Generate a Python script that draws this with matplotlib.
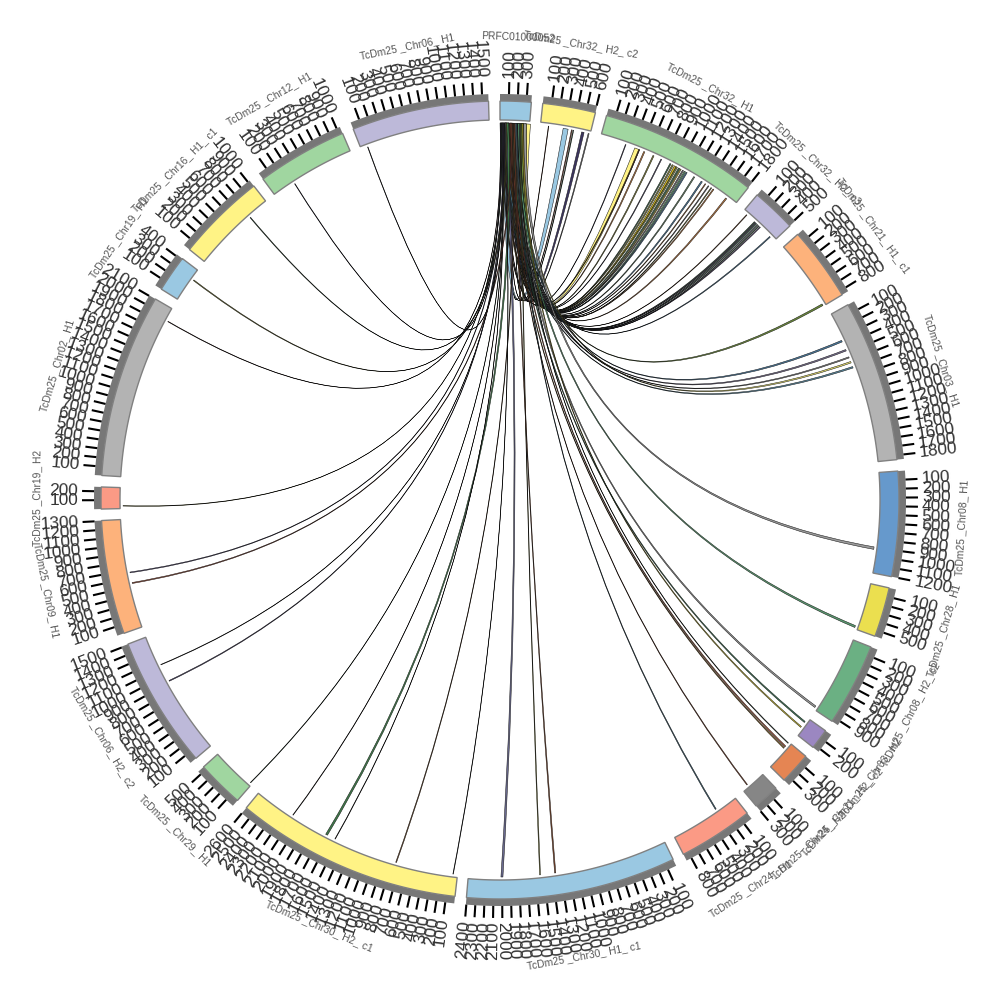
import numpy as np
import matplotlib
matplotlib.use("Agg")
import matplotlib.pyplot as plt
from matplotlib.path import Path
from matplotlib.patches import PathPatch, Polygon

plt.rcParams['font.family'] = ['Liberation Sans', 'DejaVu Sans']

# sectors, clockwise from twelve o'clock
sector_names = [
    "PRFC01000052", "TcDm25 _Chr32_ H2_ c2", "TcDm25 _Chr32_ H1", "TcDm25 _Chr32_ H2_ c3",
    "TcDm25 _Chr21_ H1_ c1", "TcDm25 _Chr03_ H1", "TcDm25 _Chr08_ H1", "TcDm25 _Chr28_ H1",
    "TcDm25 _Chr08_ H2_ c2", "TcDm25 _Chr03_ H2", "TcDm25 _Chr21_ H2_ c2", "TcDm25 _Chr24_ H2",
    "TcDm25 _Chr24_ H1", "TcDm25 _Chr30_ H1_ c1", "TcDm25 _Chr30_ H2_ c1", "TcDm25 _Chr29_ H1",
    "TcDm25 _Chr06_ H2_ c2", "TcDm25 _Chr09_ H1", "TcDm25 _Chr19_ H2", "TcDm25 _Chr02_ H1",
    "TcDm25 _Chr19_ H1", "TcDm25 _Chr16_ H1_ c1", "TcDm25 _Chr12_ H1", "TcDm25 _Chr06_ H1",
]
sector_lengths = [355, 605, 1810, 510, 850, 1850, 1200, 570, 950, 235, 365, 300,
                  860, 2405, 2600, 540, 1510, 1305, 250, 2105, 420, 1025, 1040, 1570]
sector_colors = ["#9ac8e2", "#fff385", "#a0d6a0", "#bdb9d9", "#fdb27b", "#b3b3b3",
                 "#6699cc", "#ebdf4f", "#6bb083", "#9b87c1", "#e58553", "#868686",
                 "#fb9a85", "#9ac8e2", "#fff385", "#a0d6a0", "#bdb9d9", "#fdb27b",
                 "#fb9a85", "#b3b3b3", "#9ac8e2", "#fff385", "#a0d6a0", "#bdb9d9"]

# links, all of them go to sector 0
link_sector = [1, 1, 1, 1, 1, 1,
               2, 2, 2, 2, 2, 2,
               2, 2, 2, 2, 2, 2, 2, 2, 2,
               2, 2, 2, 2, 2, 2, 2,
               3, 3, 3, 3, 3, 3, 3, 3,
               4, 5, 5, 5, 5, 5,
               6, 7, 8, 9, 9, 10, 10, 10, 11, 12,
               13, 13, 13, 14, 14, 14, 14, 14, 15, 16, 16, 17, 17,
               18, 19, 20, 21, 22, 23]
link_pos = [95, 275, 375, 395, 500, 580,
            310, 430, 480, 545, 665, 770,
            890, 920, 950, 975, 1005, 1030, 1060, 1085, 1110,
            1215, 1320, 1375, 1420, 1460, 1490, 1675,
            55, 180, 195, 210, 230, 250, 270, 435,
            820, 335, 455, 550, 610, 675,
            890, 530, 905, 125, 50, 85, 60, 10, 215, 260,
            1990, 1540, 1355, 2110, 1635, 1530, 745, 50, 20, 1135, 915, 660, 530,
            30, 1945, 290, 755, 270, 80]
link_width = [6, 60, 10, 8, 30, 12,
              8, 60, 12, 14, 14, 10,
              14, 16, 24, 16, 18, 12, 14, 16, 14,
              14, 16, 10, 10, 10, 12, 16,
              8, 12, 10, 10, 10, 10, 10, 12,
              22, 20, 18, 14, 18, 18,
              30, 24, 22, 14, 16, 12, 14, 8, 10, 12,
              24, 10, 14, 6, 24, 6, 10, 6, 6, 6, 10, 10, 12,
              6, 6, 10, 8, 6, 6]
link_source = [150, 40, 125, 215, 250, 270,
               70, 305, 20, 175, 255, 90,
               280, 130, 240, 60, 195, 265, 110, 225, 150,
               200, 85, 40, 165, 240, 120, 215,
               180, 60, 95, 245, 135, 210, 30, 270,
               255, 225, 95, 160, 300, 50,
               285, 205, 180, 265, 140, 75, 120, 205, 100, 190,
               60, 235, 160, 15, 80, 5, 145, 30, 25, 50, 20, 35, 130,
               10, 0, 70, 15, 5, 45]
link_colors = ["#7a3a20", "#9ac8e2", "#a0533a", "#3f6b4a", "#3c3560", "#777777",
               "#605a80", "#fff385", "#4a3020", "#c98040", "#8a8a3a", "#605a80",
               "#3f6b4a", "#8a8a3a", "#c9b020", "#8a8a3a", "#3f6b4a", "#e0c030", "#777777", "#5a9a70", "#4a7a9f",
               "#6b8a6b", "#4a7a9f", "#c98040", "#777777", "#8a8a3a", "#c98040", "#c07a40",
               "#a06030", "#3f6b4a", "#6f5a90", "#5a9a70", "#7a8a9a", "#3f6b4a", "#6f5a90", "#4a7a9f",
               "#6b8a3a", "#4a7a9f", "#7a7090", "#888888", "#e8e070", "#5a8aa0",
               "#999999", "#5a9a70", "#999999", "#d8c830", "#3f7b5a", "#a07020", "#c06040", "#3f5a4a", "#a05030", "#3f6a80",
               "#6a6a90", "#8a8a3a", "#8a4a2a", "#4a3a3a", "#3f7b4a", "#333333", "#8a5a30", "#333333", "#3f6b4a",
               "#555555", "#5a5080", "#6a6090", "#a0503a",
               "#8a8a3a", "#6a3a3a", "#8a8a3a", "#3f6b4a", "#504a70", "#333344"]

gap_deg = 1.65
r_in, r_out, r_band, r_tick, r_label, r_name = 380, 399, 406, 418, 422, 463
r_link, r_ctrl = 377, 25

deg_per_unit = (360 - gap_deg * len(sector_lengths)) / sum(sector_lengths)
sector_start = []
cur = 0.0
for n in sector_lengths:
    sector_start.append(cur)
    cur += n * deg_per_unit + gap_deg


def polar(r, deg):
    a = np.radians(deg)
    return r * np.sin(a), r * np.cos(a)


def band(r0, r1, d0, d1):
    ds = np.linspace(d0, d1, 40)
    x0, y0 = polar(r0, ds)
    x1, y1 = polar(r1, ds[::-1])
    return np.column_stack([np.r_[x0, x1], np.r_[y0, y1]])


def pos_deg(sector, value):
    return sector_start[sector] + value * deg_per_unit


fig = plt.figure(figsize=(10, 10), dpi=100)
ax = fig.add_axes([0, 0, 1, 1])
ax.set_xlim(-500, 500)
ax.set_ylim(-500, 500)
ax.axis('off')

for i, name in enumerate(sector_names):
    d0 = sector_start[i]
    d1 = pos_deg(i, sector_lengths[i])
    ax.add_patch(Polygon(band(r_out, r_band, d0, d1), closed=True, fc="#777777", ec="none"))
    ax.add_patch(Polygon(band(r_in, r_out, d0, d1), closed=True, fc=sector_colors[i], ec="#808080", lw=1.0))

    for v in range(100, sector_lengths[i] + 1, 100):
        d = pos_deg(i, v)
        x0, y0 = polar(r_band, d)
        x1, y1 = polar(r_tick, d)
        ax.plot([x0, x1], [y0, y1], color="black", lw=1.5, solid_capstyle='butt')
        lx, ly = polar(r_label, d)
        if d <= 180:
            ax.text(lx, ly, str(v), rotation=90 - d, ha='left', va='center',
                    rotation_mode='anchor', fontsize=12.4, color="#333333")
        else:
            ax.text(lx, ly, str(v), rotation=270 - d, ha='right', va='center',
                    rotation_mode='anchor', fontsize=12.4, color="#333333")

    mid = (d0 + d1) / 2
    nx, ny = polar(r_name, mid)
    rot = -mid if (mid < 90 or mid > 270) else 180 - mid
    ax.text(nx, ny, name, rotation=rot, ha='center', va='center',
            rotation_mode='anchor', fontsize=7.4, color="#555555")

for s, p, w, src, c in zip(link_sector, link_pos, link_width, link_source, link_colors):
    a0 = pos_deg(0, src)
    a1 = pos_deg(0, src + w)
    b0 = pos_deg(s, p)
    b1 = pos_deg(s, p + w)
    c0 = polar(r_ctrl, (a0 + b1) / 2)
    c1 = polar(r_ctrl, (a1 + b0) / 2)
    verts = [polar(r_link, a0), c0, polar(r_link, b1), polar(r_link, b0), c1,
             polar(r_link, a1), polar(r_link, a0)]
    codes = [Path.MOVETO, Path.CURVE3, Path.CURVE3, Path.LINETO, Path.CURVE3, Path.CURVE3, Path.CLOSEPOLY]
    ax.add_patch(PathPatch(Path(verts, codes), fc=c, ec="#111111", lw=0.35))

fig.savefig("out.png", dpi=100)
